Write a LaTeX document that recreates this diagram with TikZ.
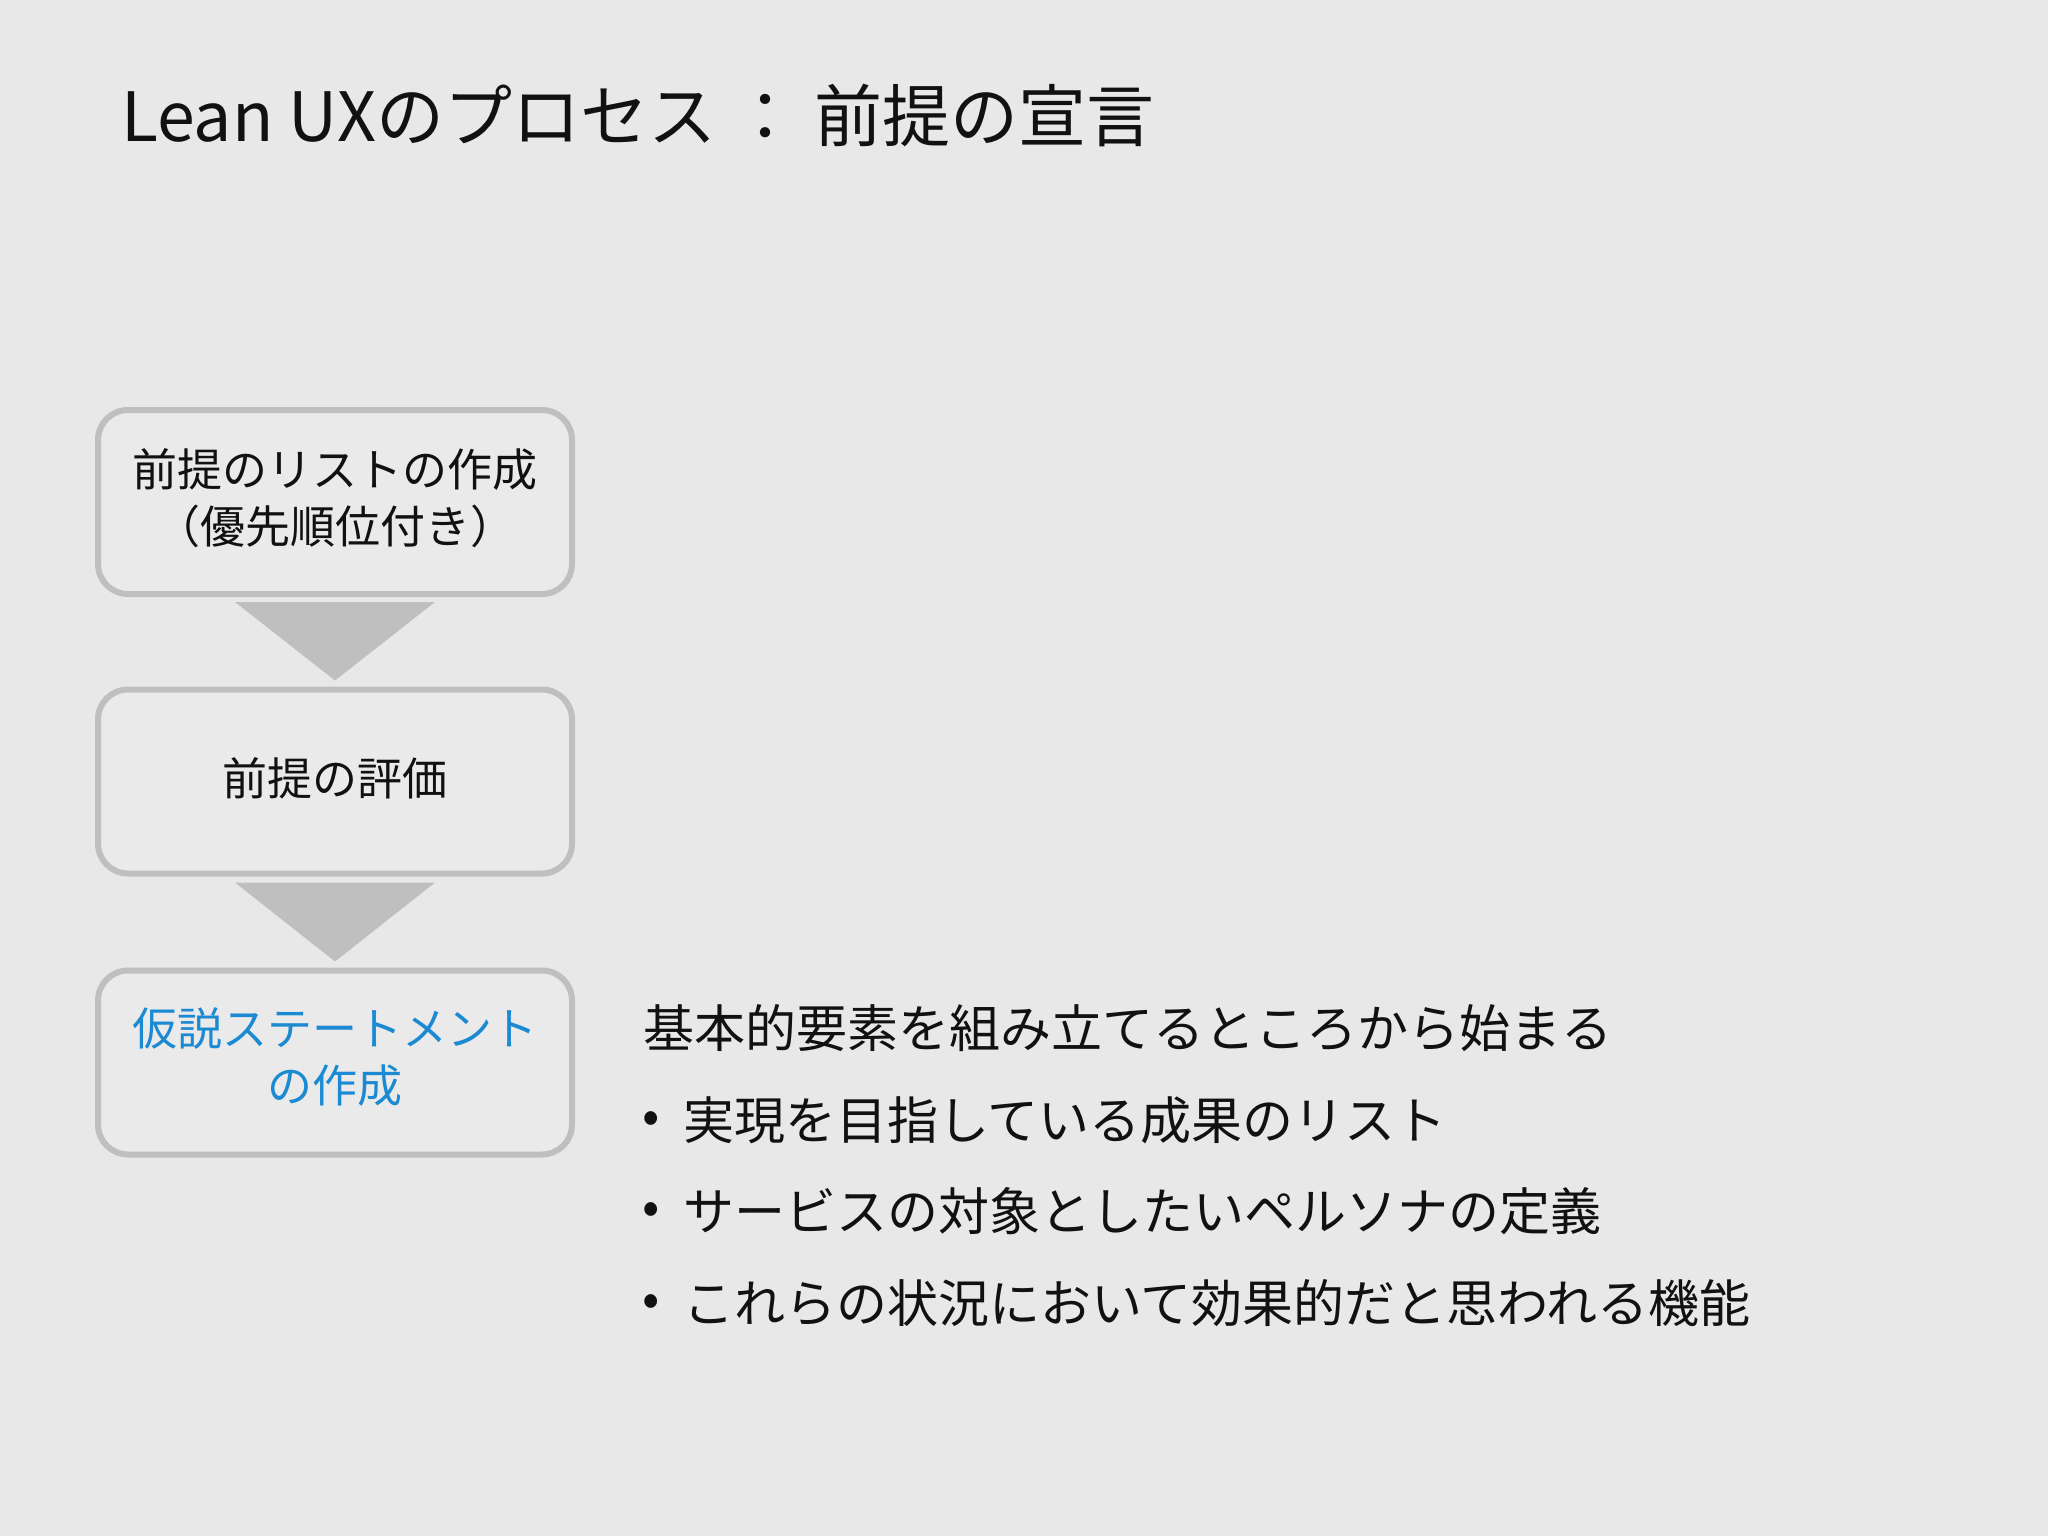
\documentclass[tikz,border=0pt]{standalone}
\usepackage{fontspec}
\setmainfont{Noto Sans CJK JP}
\usetikzlibrary{calc}
\definecolor{bg}{HTML}{E8E8E8}
\definecolor{boxline}{HTML}{BFBFBF}
\definecolor{boxfill}{HTML}{EAEAEA}
\definecolor{arrowfill}{HTML}{BFBFBF}
\definecolor{hlblue}{HTML}{1B8AD3}
\definecolor{ink}{HTML}{111111}
\begin{document}
\begin{tikzpicture}[x=1pt,y=-1pt,
  stepbox/.style={draw=boxline, line width=6pt, fill=boxfill, rounded corners=30pt,
    minimum width=474pt, minimum height=184pt, inner sep=0pt, align=center,
    font=\fontsize{45}{57}\selectfont, text=ink},
  steplabel/.style={inner sep=0pt, align=center, font=\fontsize{45}{57}\selectfont, text=ink},
  flowarrow/.style={fill=arrowfill, draw=none},
  titletext/.style={anchor=west, inner sep=0pt, text=ink, font=\fontsize{68}{80}\selectfont},
  bodytext/.style={anchor=west, inner sep=0pt, text=ink, font=\fontsize{51}{60}\selectfont},
  bulletmark/.style={inner sep=0pt, text=ink, font=\fontsize{51}{60}\selectfont}]
\fill[bg] (0,0) rectangle (2048,1536);
\useasboundingbox (0,0) rectangle (2048,1536);

\node[titletext] (title) at (121,115) {Lean UXのプロセス ： 前提の宣言};

\node[stepbox] (b1) at (335,502) {};
\node[steplabel] (t1) at (335,498) {前提のリストの作成\\（優先順位付き）};
\node[stepbox] (b2) at (335,781.5) {};
\node[steplabel] (t2) at (335,778) {前提の評価};
\node[stepbox] (b3) at (335,1062.5) {};
\node[steplabel, text=hlblue] (t3) at (335,1057) {仮説ステートメント\\の作成};

\fill[flowarrow] ($(b1.south)+(-100,5)$) -- ($(b1.south)+(100,5)$) -- ($(b2.north)+(0,-6)$) -- cycle;
\fill[flowarrow] ($(b2.south)+(-100,6)$) -- ($(b2.south)+(100,6)$) -- ($(b3.north)+(0,-6)$) -- cycle;

\node[bodytext] (intro) at (643,1028) {基本的要素を組み立てるところから始まる};
\node[bulletmark] (m1) at (651,1123) {•};
\node[bodytext] (i1) at (683,1120) {実現を目指している成果のリスト};
\node[bulletmark] (m2) at (651,1214) {•};
\node[bodytext] (i2) at (683,1211) {サービスの対象としたいペルソナの定義};
\node[bulletmark] (m3) at (651,1306) {•};
\node[bodytext] (i3) at (683,1303) {これらの状況において効果的だと思われる機能};
\end{tikzpicture}
\end{document}
